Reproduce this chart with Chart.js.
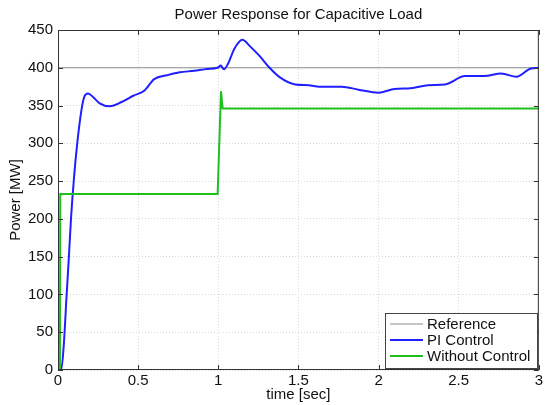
<!DOCTYPE html>
<html>
<head>
<meta charset="utf-8">
<script src="https://cdn.jsdelivr.net/npm/chart.js@4/dist/chart.umd.min.js"></script>
<style>
  html, body { margin: 0; padding: 0; background: #fff; }
  #wrap { width: 545px; height: 405px; }
</style>
</head>
<body>
<div id="wrap"><canvas id="powerChart" width="545" height="405"></canvas></div>
<script>
// --- DATA ---
const chartTitle = 'Power Response for Capacitive Load';
const xTitle = 'time [sec]';
const yTitle = 'Power [MW]';
const seriesNames = ['Reference', 'PI Control', 'Without Control'];

const refTime = [0, 3];
const refPower = [400, 400];

const piTime = [0, 0.02, 0.035, 0.054, 0.068, 0.081, 0.1, 0.12, 0.147, 0.165, 0.188, 0.22, 0.26, 0.323,
  0.4, 0.47, 0.54, 0.6, 0.68, 0.76, 0.85, 0.93, 0.995, 1.015, 1.035, 1.06, 1.1, 1.15, 1.2, 1.26,
  1.32, 1.38, 1.48, 1.565, 1.63, 1.77, 1.875, 2.0, 2.1, 2.2, 2.31, 2.415, 2.54, 2.66, 2.765, 2.86, 2.95, 3.0];
const piPower = [0, 0, 30, 100, 150, 200, 255, 300, 345, 362, 366, 361, 353, 349,
  355, 363, 370, 385, 390, 394, 396, 398.5, 400, 403, 398, 405, 425, 437, 428, 415,
  400, 388, 378, 377, 375, 375, 371, 367, 372, 373, 377, 378, 389, 389, 392.5, 388, 399, 400];

const noCtrlTime = [0, 0.012, 0.014, 0.996, 1.017, 1.027, 3.0];
const noCtrlPower = [0, 0, 233, 233, 369, 346, 346];

const xTicks = [0, 0.5, 1, 1.5, 2, 2.5, 3];
const yTicks = [0, 50, 100, 150, 200, 250, 300, 350, 400, 450];

const colors = ['#8c8c8c', '#1f1fff', '#1fbf1f'];
const widths = [1, 2, 2];

function toPoints(xs, ys) {
    return xs.map((x, i) => ({ x: x, y: ys[i] }));
}

// --- PLUGINS ---
const frame = {
    id: 'frame',
    afterDatasetsDraw(chart) {
        const ctx = chart.ctx;
        const a = chart.chartArea;
        const sx = chart.scales.x, sy = chart.scales.y;
        ctx.save();
        ctx.strokeStyle = '#333';
        ctx.lineWidth = 1;
        ctx.strokeRect(a.left + 0.5, a.top + 0.5, a.right - a.left - 1, a.bottom - a.top - 1);
        ctx.beginPath();
        xTicks.forEach(v => {
            const px = Math.round(sx.getPixelForValue(v)) + 0.5;
            ctx.moveTo(px, a.bottom); ctx.lineTo(px, a.bottom - 5);
            ctx.moveTo(px, a.top); ctx.lineTo(px, a.top + 5);
        });
        yTicks.forEach(v => {
            const py = Math.round(sy.getPixelForValue(v)) + 0.5;
            ctx.moveTo(a.left, py); ctx.lineTo(a.left + 5, py);
            ctx.moveTo(a.right, py); ctx.lineTo(a.right - 5, py);
        });
        ctx.stroke();

        // title
        ctx.fillStyle = '#111';
        ctx.font = '15px "Liberation Sans", Arial, sans-serif';
        ctx.textAlign = 'center';
        ctx.textBaseline = 'middle';
        ctx.fillText(chartTitle, (a.left + a.right) / 2, 15);

        // legend box
        const bx = 385, by = 313, bw = 152, bh = 55;
        ctx.fillStyle = '#fff';
        ctx.fillRect(bx, by, bw, bh);
        ctx.strokeStyle = '#444';
        ctx.strokeRect(bx + 0.5, by + 0.5, bw, bh);
        ctx.font = '15px "Liberation Sans", Arial, sans-serif';
        ctx.textAlign = 'left';
        const rows = [324, 340, 356];
        seriesNames.forEach((name, i) => {
            ctx.beginPath();
            ctx.strokeStyle = colors[i];
            ctx.lineWidth = widths[i];
            ctx.moveTo(390, rows[i]); ctx.lineTo(423, rows[i]);
            ctx.stroke();
            ctx.fillStyle = '#111';
            ctx.fillText(name, 427, rows[i] + 1);
        });
        ctx.restore();
    }
};

// --- CHART ---
const tickFont = { family: '"Liberation Sans", Arial, sans-serif', size: 15 };
const labelFont = { family: '"Liberation Sans", Arial, sans-serif', size: 15 };

new Chart(document.getElementById('powerChart').getContext('2d'), {
    type: 'line',
    data: {
        datasets: [
            { label: seriesNames[0], data: toPoints(refTime, refPower), borderColor: colors[0], borderWidth: widths[0], pointRadius: 0, order: 3 },
            { label: seriesNames[1], data: toPoints(piTime, piPower), borderColor: colors[1], borderWidth: widths[1], pointRadius: 0, cubicInterpolationMode: 'monotone', order: 2 },
            { label: seriesNames[2], data: toPoints(noCtrlTime, noCtrlPower), borderColor: colors[2], borderWidth: widths[2], pointRadius: 0, tension: 0, order: 1 }
        ]
    },
    options: {
        responsive: false,
        animation: false,
        layout: { padding: { top: 30, right: 4, left: 0, bottom: 0 } },
        plugins: { legend: { display: false }, tooltip: { enabled: false }, title: { display: false } },
        scales: {
            x: {
                type: 'linear', min: 0, max: 3,
                afterFit: (s) => { s.height = 35; },
                afterBuildTicks: (s) => { s.ticks = xTicks.map(v => ({ value: v })); },
                grid: { color: '#d9d9d9', drawTicks: false },
                border: { display: false, dash: [1, 2] },
                ticks: { font: tickFont, color: '#111', padding: 2, maxRotation: 0, callback: (v) => String(v) },
                title: { display: true, text: xTitle, font: labelFont, color: '#111', padding: { top: 0, bottom: 1 } }
            },
            y: {
                type: 'linear', min: 0, max: 450,
                afterFit: (s) => { s.width = 58; },
                afterBuildTicks: (s) => { s.ticks = yTicks.map(v => ({ value: v })); },
                grid: { color: '#d9d9d9', drawTicks: false },
                border: { display: false, dash: [1, 2] },
                ticks: { font: tickFont, color: '#111', padding: 5 },
                title: { display: true, text: yTitle, font: labelFont, color: '#111', padding: { top: 7, bottom: 0 } }
            }
        }
    },
    plugins: [frame]
});
</script>
</body>
</html>
